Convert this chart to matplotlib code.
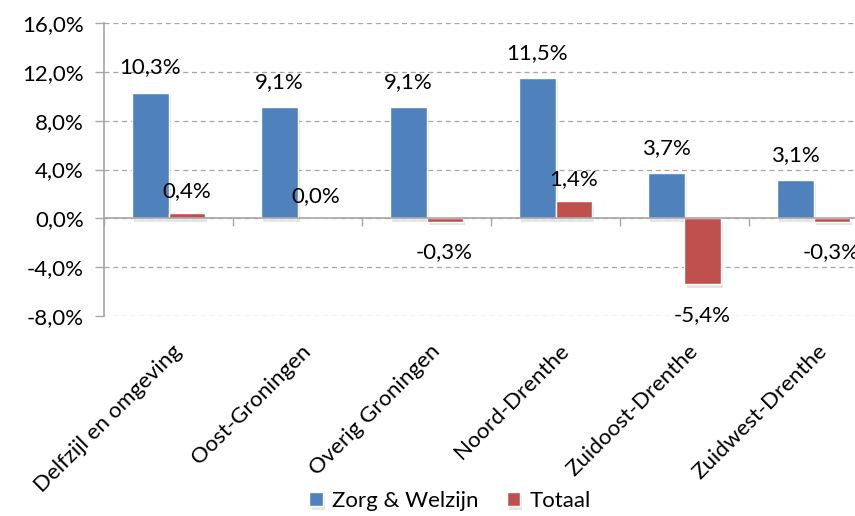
import numpy as np
import matplotlib.pyplot as plt
import matplotlib.patheffects as pe
from matplotlib.transforms import blended_transform_factory, offset_copy

plt.rcParams['font.family'] = ['Lato', 'DejaVu Sans']

# data
regions = ["Delfzijl en omgeving", "Oost-Groningen", "Overig Groningen",
           "Noord-Drenthe", "Zuidoost-Drenthe", "Zuidwest-Drenthe"]
zorg = [10.3, 9.1, 9.1, 11.5, 3.7, 3.1]
totaal = [0.4, 0.0, -0.3, 1.4, -5.4, -0.3]
yticks = [-8, -4, 0, 4, 8, 12, 16]

BLUE = "#4F81BD"
RED = "#C0504D"
GRID = "#A6A6A6"
FS = 16

fig = plt.figure(figsize=(8.55, 5.16), dpi=100)
ax = fig.add_axes([104 / 855, 200 / 516, 774 / 855, 293 / 516])

x = np.arange(len(regions))
w = 0.28
shadow = [pe.SimplePatchShadow(offset=(1.5, -2.5), shadow_rgbFace="#999999", alpha=0.25), pe.Normal()]

b1 = ax.bar(x - w / 2, zorg, w, color=BLUE, edgecolor="white", linewidth=1,
            label="Zorg & Welzijn", zorder=3)
b2 = ax.bar(x + w / 2, totaal, w, color=RED, edgecolor="white", linewidth=1,
            label="Totaal", zorder=3)
for bar in list(b1) + list(b2):
    bar.set_path_effects(shadow)

def fmt(v):
    return f"{v:.1f}%".replace(".", ",")

for xi, v in zip(x, zorg):
    ax.annotate(fmt(v), (xi - w / 2, v), xytext=(0, 18), textcoords="offset points",
                ha="center", va="center", fontsize=FS)
for xi, v in zip(x, totaal):
    if v >= 0:
        off = 16
    else:
        off = -22
    ax.annotate(fmt(v), (xi + w / 2, v), xytext=(0, off), textcoords="offset points",
                ha="center", va="center", fontsize=FS)

ax.set_xlim(-0.5, len(regions) - 0.5)
ax.set_ylim(-8, 16)
ax.set_yticks(yticks)
ax.set_yticklabels([fmt(t) for t in yticks], fontsize=FS)
ax.yaxis.grid(True, linestyle=(0, (4, 3)), color=GRID, linewidth=0.9, zorder=0)
ax.tick_params(axis="y", length=6.5, color=GRID, width=1, pad=8)

for s in ["top", "right"]:
    ax.spines[s].set_visible(False)
ax.spines["left"].set_color(GRID)
ax.spines["left"].set_linewidth(1.2)
ax.spines["bottom"].set_position(("data", 0))
ax.spines["bottom"].set_color(GRID)
ax.spines["bottom"].set_linewidth(1.2)
ax.spines["bottom"].set_zorder(4)

# tick marks between categories, labels drawn separately
ax.set_xticks(np.arange(len(regions) + 1) - 0.5)
ax.set_xticklabels([])
ax.tick_params(axis="x", length=6, color=GRID, width=1)

trans = blended_transform_factory(ax.transData, ax.transAxes)
for xi, name in zip(x, regions):
    ax.text(xi, -0.11, name, transform=offset_copy(trans, fig=fig, x=10, y=0, units="dots"),
            rotation=45, rotation_mode="anchor", ha="right", va="center", fontsize=FS)

ax.legend(loc="lower center", bbox_to_anchor=(450 / 855, -0.012), bbox_transform=fig.transFigure,
          ncol=2, frameon=False, fontsize=FS, handlelength=0.6, handleheight=0.6,
          handletextpad=0.4, columnspacing=1.3, borderaxespad=0.1)

fig.savefig("out.png", dpi=100)
